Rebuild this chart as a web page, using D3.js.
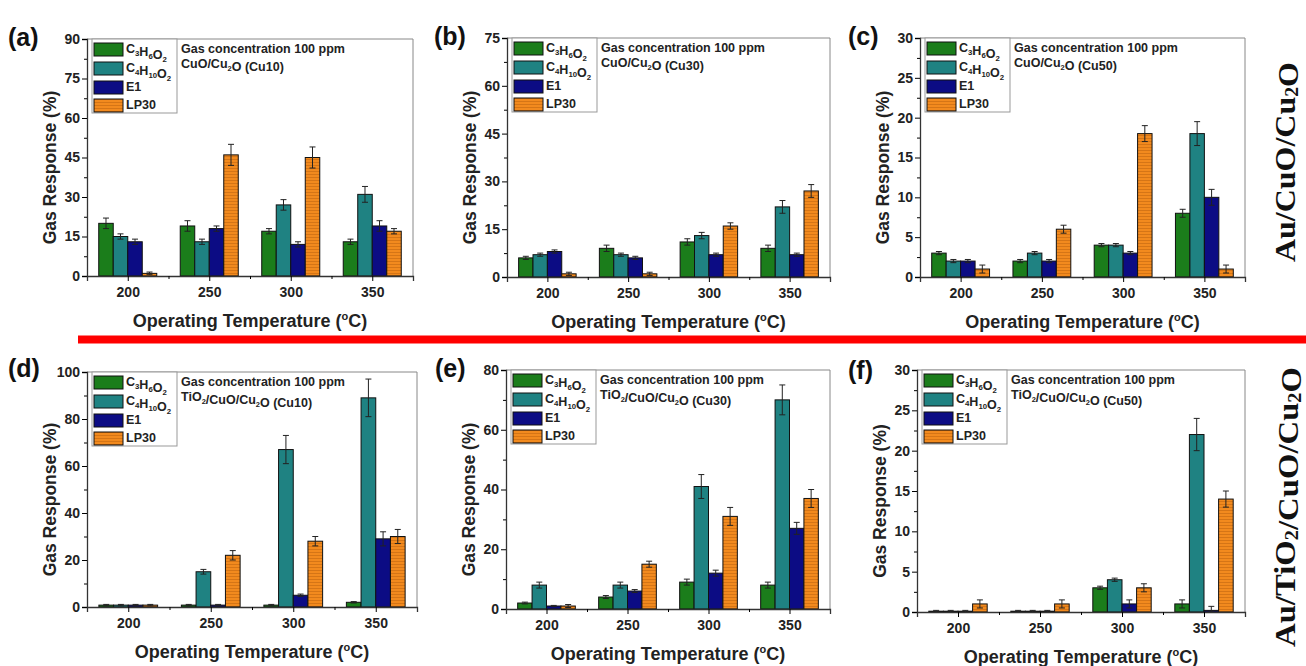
<!DOCTYPE html>
<html>
<head>
<meta charset="utf-8">
<script src="https://cdn.jsdelivr.net/npm/d3@7"></script>
<style>
  body { margin: 0; background: #fff; }
  svg { display: block; font-family: "Liberation Sans", Arial, sans-serif; font-weight: bold; }
</style>
</head>
<body>
<svg width="1306" height="666"></svg>
<script>
// categories
const temps = [200, 250, 300, 350];
const gases = ["C3H6O2", "C4H10O2", "E1", "LP30"];
const colors = ["#1b7d1b", "#1f8282", "#0c0c84", "#f28a1e"];

// values per temperature: [C3H6O2, C4H10O2, E1, LP30]
const valsA = [[20, 15, 13, 1], [19, 13, 18, 46], [17, 27, 12, 45], [13, 31, 19, 17]];
const errsA = [[2, 1, 1, 0.5], [2, 1, 1, 4], [1, 2, 1, 4], [1, 3, 2, 1]];
const valsB = [[6, 7, 8, 1], [9, 7, 6, 1], [11, 13, 7, 16], [9, 22, 7, 27]];
const errsB = [[0.5, 0.5, 0.5, 0.5], [1, 0.5, 0.5, 0.5], [1, 1, 0.5, 1], [1, 2, 0.5, 2]];
const valsC = [[3, 2, 2, 1], [2, 3, 2, 6], [4, 4, 3, 18], [8, 18, 10, 1]];
const errsC = [[0.2, 0.2, 0.2, 0.5], [0.2, 0.2, 0.2, 0.5], [0.2, 0.2, 0.2, 1], [0.5, 1.5, 1, 0.5]];
const valsD = [[0.8, 0.8, 0.8, 0.8], [0.8, 15, 0.8, 22], [0.8, 67, 5, 28], [2, 89, 29, 30]];
const errsD = [[0.3, 0.3, 0.3, 0.3], [0.3, 1, 0.3, 2], [0.3, 6, 0.5, 2], [0.3, 8, 3, 3]];
const valsE = [[2, 8, 1, 1], [4, 8, 6, 15], [9, 41, 12, 31], [8, 70, 27, 37]];
const errsE = [[0.3, 1, 0.2, 0.5], [0.5, 1, 0.5, 1], [1, 4, 1, 3], [1, 5, 2, 3]];
const valsF = [[0.1, 0.1, 0.1, 1], [0.1, 0.1, 0.1, 1], [3, 4, 1, 3], [1, 22, 0.2, 14]];
const errsF = [[0.1, 0.1, 0.1, 0.5], [0.1, 0.1, 0.1, 0.5], [0.2, 0.2, 0.5, 0.5], [0.5, 2, 0.5, 1]];

// y tick labels
const ticksA = [0, 15, 30, 45, 60, 75, 90];
const ticksB = [0, 15, 30, 45, 60, 75];
const ticksC = [0, 5, 10, 15, 20, 25, 30];
const ticksD = [0, 20, 40, 60, 80, 100];
const ticksE = [0, 20, 40, 60, 80];
const ticksF = [0, 5, 10, 15, 20, 25, 30];

const svg = d3.select("svg");

// hatch for the LP30 bars
const defs = svg.append("defs");
const pat = defs.append("pattern").attr("id", "hatch")
  .attr("width", 4).attr("height", 3).attr("patternUnits", "userSpaceOnUse");
pat.append("rect").attr("width", 4).attr("height", 3).attr("fill", colors[3]);
pat.append("line").attr("x1", 0).attr("x2", 4).attr("y1", 0.5).attr("y2", 0.5)
  .attr("stroke", "#b8600f").attr("stroke-width", 0.7).attr("opacity", 0.7);

function fill(i) { return i == 3 ? "url(#hatch)" : colors[i]; }

// chemical formula with subscripts
function formula(sel, txt, size) {
  const parts = txt.match(/[A-Za-z]+|\d+/g);
  parts.forEach((p, k) => {
    if (/\d/.test(p) && k > 0 && txt !== "E1" && txt !== "LP30") {
      sel.append("tspan").attr("font-size", size * 0.62).attr("dy", size * 0.25).text(p);
      sel.append("tspan").attr("font-size", size).attr("dy", -size * 0.25).text("");
    } else {
      sel.append("tspan").attr("font-size", size).text(p);
    }
  });
}

const panels = [
  {id: "(a)", vals: valsA, errs: errsA, ticks: ticksA, left: 87, right: 413, top: 39, bottom: 276, lx: 8, ly: 46, sample: "CuO/Cu2O (Cu10)"},
  {id: "(b)", vals: valsB, errs: errsB, ticks: ticksB, left: 507, right: 830, top: 38, bottom: 277, lx: 434, ly: 45, sample: "CuO/Cu2O (Cu30)"},
  {id: "(c)", vals: valsC, errs: errsC, ticks: ticksC, left: 920, right: 1245, top: 38, bottom: 277, lx: 848, ly: 45, sample: "CuO/Cu2O (Cu50)"},
  {id: "(d)", vals: valsD, errs: errsD, ticks: ticksD, left: 87, right: 417, top: 372, bottom: 607, lx: 8, ly: 377, sample: "TiO2/CuO/Cu2O (Cu10)"},
  {id: "(e)", vals: valsE, errs: errsE, ticks: ticksE, left: 506, right: 830, top: 370, bottom: 609, lx: 435, ly: 377, sample: "TiO2/CuO/Cu2O (Cu30)"},
  {id: "(f)", vals: valsF, errs: errsF, ticks: ticksF, left: 917, right: 1245, top: 370, bottom: 612, lx: 848, ly: 379, sample: "TiO2/CuO/Cu2O (Cu50)"}
];

panels.forEach(p => {
  const g = svg.append("g");
  const x = d3.scaleLinear().domain([175, 375]).range([p.left, p.right]);
  const yMax = p.ticks[p.ticks.length - 1];
  const y = d3.scaleLinear().domain([0, yMax]).range([p.bottom, p.top]);
  const bw = (x(225) - x(175)) * 0.178;
  const step = p.ticks[1] - p.ticks[0];
  const minors = d3.range(step / 2, yMax, step);

  // bars
  p.vals.forEach((row, ti) => {
    row.forEach((v, gi) => {
      const cx = x(temps[ti]) + (gi - 2) * bw;
      g.append("rect")
        .attr("x", cx).attr("y", y(v))
        .attr("width", bw).attr("height", y(0) - y(v))
        .attr("fill", fill(gi)).attr("stroke", "#111").attr("stroke-width", 1);
      const e = p.errs[ti][gi];
      const mx = cx + bw / 2;
      const y1 = y(Math.max(0, v - e)), y2 = y(v + e);
      g.append("line").attr("x1", mx).attr("x2", mx).attr("y1", y1).attr("y2", y2)
        .attr("stroke", "#222").attr("stroke-width", 1);
      [y1, y2].forEach(yy => g.append("line")
        .attr("x1", mx - 3).attr("x2", mx + 3).attr("y1", yy).attr("y2", yy)
        .attr("stroke", "#222").attr("stroke-width", 1));
    });
  });

  // frame
  g.append("line").attr("x1", p.left).attr("x2", p.right).attr("y1", p.top).attr("y2", p.top).attr("stroke", "#888");
  g.append("line").attr("x1", p.right).attr("x2", p.right).attr("y1", p.top).attr("y2", p.bottom).attr("stroke", "#888");

  // y axis
  const ya = g.append("g").attr("transform", `translate(${p.left},0)`)
    .call(d3.axisLeft(y).tickValues(p.ticks).tickSize(5).tickPadding(2).tickFormat(d3.format("d")));
  ya.select(".domain").attr("stroke", "#333").attr("stroke-width", 1.3);
  ya.selectAll("text").attr("font-size", 14).attr("font-family", "Liberation Sans, Arial").attr("font-weight", "bold").attr("fill", "#222");
  g.append("g").attr("transform", `translate(${p.left},0)`)
    .call(d3.axisLeft(y).tickValues(minors).tickSize(3).tickFormat(""))
    .select(".domain").remove();

  // x axis
  const xa = g.append("g").attr("transform", `translate(0,${p.bottom})`)
    .call(d3.axisBottom(x).tickValues(temps).tickSize(5).tickPadding(6).tickFormat(d3.format("d")));
  xa.select(".domain").attr("stroke", "#333").attr("stroke-width", 1.3);
  xa.selectAll("text").attr("font-size", 14).attr("font-family", "Liberation Sans, Arial").attr("font-weight", "bold").attr("fill", "#222");
  g.append("g").attr("transform", `translate(0,${p.bottom})`)
    .call(d3.axisBottom(x).tickValues([225, 275, 325]).tickSize(3).tickFormat(""))
    .select(".domain").remove();

  // axis titles
  g.append("text")
    .attr("transform", `translate(${p.left - 31},${(p.top + p.bottom) / 2 + 10}) rotate(-90)`)
    .attr("text-anchor", "middle").attr("font-size", 17.5).attr("fill", "#222")
    .text("Gas Response (%)");
  const xt = g.append("text")
    .attr("x", (p.left + p.right) / 2).attr("y", p.bottom + 51)
    .attr("text-anchor", "middle").attr("font-size", 18).attr("fill", "#222");
  xt.append("tspan").text("Operating Temperature (");
  xt.append("tspan").attr("font-size", 11).attr("dy", -7).text("o");
  xt.append("tspan").attr("dy", 7).text("C)");

  // panel letter
  g.append("text").attr("x", p.lx).attr("y", p.ly).attr("font-size", 25).attr("fill", "#111").text(p.id);

  // legend
  const lg = g.append("g").attr("transform", `translate(${p.left},${p.top})`);
  lg.append("rect").attr("x", 5).attr("y", 0).attr("width", 85).attr("height", 74)
    .attr("fill", "#fff").attr("stroke", "#999").attr("stroke-width", 1);
  const rowY = [10, 29, 48, 66];
  gases.forEach((name, i) => {
    lg.append("rect").attr("x", 7).attr("y", rowY[i] - 6).attr("width", 29).attr("height", 13)
      .attr("fill", fill(i)).attr("stroke", "#111").attr("stroke-width", 1);
    const t = lg.append("text").attr("x", 39).attr("y", rowY[i] + 4).attr("fill", "#222");
    formula(t, name, 12.5);
  });
  const info = lg.append("text").attr("x", 94).attr("y", 14).attr("font-size", 12.5).attr("fill", "#222");
  info.text("Gas concentration 100 ppm");
  const s = lg.append("text").attr("x", 94).attr("y", 29).attr("font-size", 12.5).attr("fill", "#222");
  p.sample.split(/(O2|u2)/).forEach(part => {
    if (part === "O2" || part === "u2") {
      s.append("tspan").text(part[0]);
      s.append("tspan").attr("font-size", 7.5).attr("dy", 3).text("2");
      s.append("tspan").attr("dy", -3).text("");
    } else if (part) {
      s.append("tspan").text(part);
    }
  });
});

// red divider
svg.append("line").attr("x1", 78).attr("x2", 1306).attr("y1", 339.5).attr("y2", 339.5)
  .attr("stroke", "#ff0000").attr("stroke-width", 8);

// side labels
function sideLabel(cy, len, parts) {
  const t = svg.append("text")
    .attr("transform", `translate(1295,${cy}) rotate(-90)`)
    .attr("text-anchor", "middle")
    .attr("font-family", "Liberation Serif, Times New Roman, serif")
    .attr("font-weight", "bold").attr("font-size", 29).attr("fill", "#111")
    .attr("textLength", len).attr("lengthAdjust", "spacingAndGlyphs");
  parts.forEach(pt => {
    if (pt === "2") {
      t.append("tspan").attr("font-size", 18).attr("dy", 3).text("2");
      t.append("tspan").attr("dy", -3).text("");
    } else {
      t.append("tspan").text(pt);
    }
  });
}
sideLabel(162, 200, ["Au/CuO/Cu", "2", "O"]);
sideLabel(507, 280, ["Au/TiO", "2", "/CuO/Cu", "2", "O"]);
</script>
</body>
</html>
